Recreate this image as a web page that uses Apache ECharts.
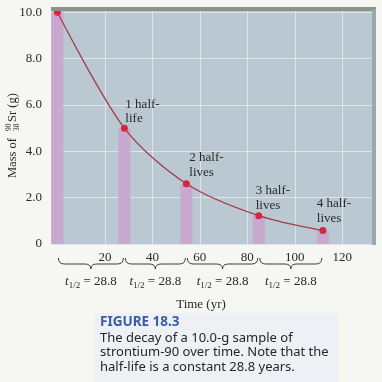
<!DOCTYPE html>
<html><head><meta charset="utf-8">
<script src="https://cdn.jsdelivr.net/npm/echarts@6/dist/echarts.min.js"></script>
<style>html,body{margin:0;padding:0;background:#f6f6f3;}#c{width:382px;height:382px;}</style>
</head><body><div id="c"></div>
<script>
// ---- data ----
const timeYears = [0, 28.2, 54.3, 84.8, 111.8];
const massGrams = [10.0, 5.0, 2.6, 1.22, 0.58];
const pointLabels = ['', '1 half-\nlife', '2 half-\nlives', '3 half-\nlives', '4 half-\nlives'];
const xTickValues = [20, 40, 60, 80, 100, 120];
const yTickValues = [0, 2, 4, 6, 8, 10];
const halfLifeValues = ['28.8', '28.8', '28.8', '28.8'];
const xAxisTitle = 'Time (yr)';
const captionTitle = 'FIGURE 18.3';
const captionLines = ['The decay of a 10.0-g sample of', 'strontium-90 over time. Note that the', 'half-life is a constant 28.8 years.'];

// ---- presentation ----
const SERIF = '"Liberation Serif", "Times New Roman", "DejaVu Serif", serif';
const SANS = '"Noto Sans", "Open Sans", sans-serif';
const labelOffsets = [[0, 0], [1, -31], [3, -33], [-3, -32], [-6, -34]];

const chart = echarts.init(document.getElementById('c'), null, {renderer: 'canvas'});

const pts = timeYears.map((t, i) => ({
  value: [t, massGrams[i]],
  label: pointLabels[i] ? {
    show: true, formatter: pointLabels[i], position: 'inside',
    align: 'left', verticalAlign: 'top', offset: labelOffsets[i],
    fontFamily: SERIF, fontSize: 13, lineHeight: 14.5, color: '#2a2a2a'
  } : {show: false}
}));

const braceData = halfLifeValues.map((v, i) => [timeYears[i], timeYears[i + 1], v]);

function renderBrace(params, api) {
  const x1 = api.coord([api.value(0), 0])[0] + 1;
  const x2 = api.coord([api.value(1), 0])[0] - 1;
  const bottom = params.coordSys.y + params.coordSys.height;
  const y0 = bottom + 14, y1 = bottom + 20, y2 = bottom + 25;
  const m = (x1 + x2) / 2;
  const r = 6;
  const d = `M${x1},${y0} Q${x1},${y1} ${x1 + r},${y1} L${m - r},${y1} Q${m},${y1} ${m},${y2} Q${m},${y1} ${m + r},${y1} L${x2 - r},${y1} Q${x2},${y1} ${x2},${y0}`;
  return {
    type: 'group',
    children: [
      {type: 'path', shape: {pathData: d}, style: {fill: 'none', stroke: '#3a3a3a', lineWidth: 1}},
      {type: 'text', x: m, y: bottom + 38, style: {
        text: '{t|t}{s|1/2}{n| = ' + api.value(2) + '}',
        align: 'center', verticalAlign: 'middle',
        rich: {
          t: {fontFamily: SERIF, fontStyle: 'italic', fontSize: 13, fill: '#2a2a2a', lineHeight: 16, verticalAlign: 'middle'},
          s: {fontFamily: SERIF, fontSize: 9, fill: '#2a2a2a', lineHeight: 16, verticalAlign: 'bottom', padding: [4, 0, 0, 0]},
          n: {fontFamily: SERIF, fontSize: 13, fill: '#2a2a2a', lineHeight: 16, verticalAlign: 'middle'}
        }
      }}
    ]
  };
}

const option = {
  backgroundColor: '#f6f6f3',
  animation: false,
  grid: {left: 51, right: 10, top: 10, bottom: 138, show: true, backgroundColor: '#b9c8d1', borderWidth: 0, containLabel: false},
  xAxis: {
    type: 'value', min: -2.7, max: 132.5,
    axisLine: {show: false},
    axisTick: {show: true, inside: true, length: 234, customValues: xTickValues, lineStyle: {color: '#dde5ea', width: 1}},
    axisLabel: {show: true, customValues: xTickValues, margin: 7, fontFamily: SERIF, fontSize: 13, color: '#2a2a2a'},
    splitLine: {show: false}
  },
  yAxis: {
    type: 'value', min: 0, max: 10.1, interval: 2,
    axisLine: {show: false}, axisTick: {show: false},
    axisLabel: {margin: 9, fontFamily: SERIF, fontSize: 13, color: '#2a2a2a',
      formatter: v => yTickValues.includes(v) ? (v === 0 ? '0' : v.toFixed(1)) : ''},
    splitLine: {show: true, lineStyle: {color: '#dde5ea', width: 1}}
  },
  series: [
    {type: 'bar', data: timeYears.map((t, i) => [t, massGrams[i]]), barWidth: 12,
      itemStyle: {color: '#c9a8d0'}, z: 2, silent: true},
    {type: 'line', data: pts, smooth: 0.3, symbol: 'circle', symbolSize: 7,
      lineStyle: {color: '#a53c4a', width: 1.3}, itemStyle: {color: '#d2293f'}, z: 4},
    {type: 'custom', data: braceData, renderItem: renderBrace, clip: false, encode: {x: [0, 1]}, z: 5, silent: true}
  ],
  graphic: [
    {type: 'rect', shape: {x: 51, y: 7, width: 325, height: 4}, style: {fill: '#8d9486'}, z: 10},
    {type: 'rect', shape: {x: 372, y: 9, width: 4, height: 236}, style: {fill: '#9da6ab'}, z: 10},
    {type: 'group', x: 13, y: 132, rotation: Math.PI / 2, children: [
      {type: 'text', x: -46, y: 0, style: {text: 'Mass of', font: '12.5px ' + SERIF, fill: '#2a2a2a', verticalAlign: 'middle', align: 'left'}},
      {type: 'text', x: 1, y: -3.5, style: {text: '90', font: '7.5px ' + SERIF, fill: '#2a2a2a', verticalAlign: 'middle', align: 'left'}},
      {type: 'text', x: 1, y: 4, style: {text: '38', font: '7.5px ' + SERIF, fill: '#2a2a2a', verticalAlign: 'middle', align: 'left'}},
      {type: 'text', x: 10, y: 0, style: {text: 'Sr (g)', font: '12.5px ' + SERIF, fill: '#2a2a2a', verticalAlign: 'middle', align: 'left'}}
    ]},
    {type: 'text', x: 201, y: 305, style: {text: xAxisTitle, font: '13px ' + SERIF, fill: '#2a2a2a', align: 'center', verticalAlign: 'middle'}},
    {type: 'rect', shape: {x: 95, y: 313, width: 243, height: 69}, style: {fill: '#edf1f5'}},
    {type: 'text', x: 100, y: 322, style: {text: captionTitle, font: 'bold 13.5px ' + SANS, fill: '#3a5ca6', align: 'left', verticalAlign: 'middle'}},
    {type: 'text', x: 100, y: 331, style: {text: captionLines.join('\n'), font: '13px ' + SANS, lineHeight: 14.5, fill: '#262626', align: 'left', verticalAlign: 'top'}}
  ]
};
chart.setOption(option);
</script></body></html>
